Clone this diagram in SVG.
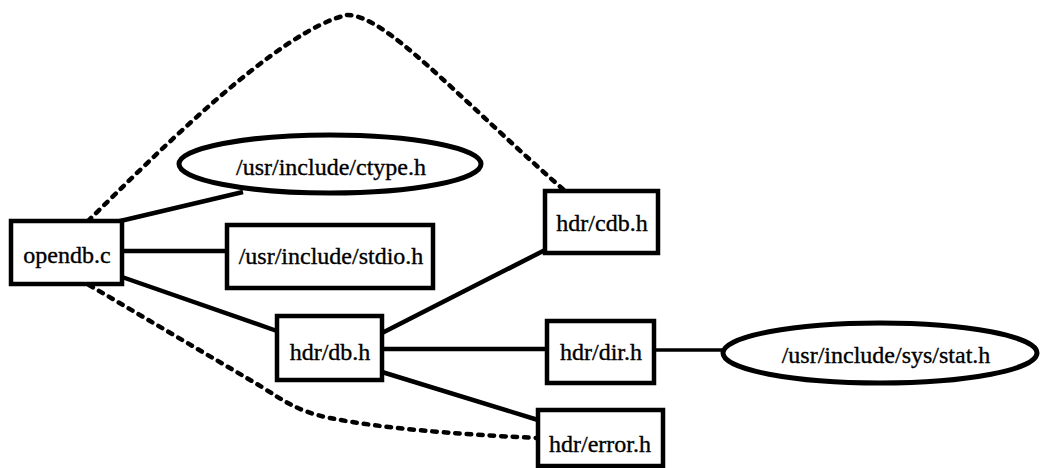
<svg xmlns="http://www.w3.org/2000/svg" width="1040" height="468" viewBox="0 0 1040 468">
  <style>
    .box { fill: #fff; stroke: #000; stroke-width: 4.5; }
    .oval { fill: #fff; stroke: #000; stroke-width: 5; }
    .label { font-family: "Liberation Serif", "Times New Roman", serif; font-size: 24px; fill: #000; stroke: #000; stroke-width: 0.35; text-anchor: middle; }
    .edge { fill: none; stroke: #000; stroke-width: 4.5; }
    .thin { stroke-width: 3.5; }
    .dash { fill: none; stroke: #000; stroke-width: 4.5; stroke-dasharray: 4.5 7; stroke-linecap: round; }
  </style>
  <rect width="1040" height="468" fill="#fff"/>

  <!-- include relations -->
  <g id="connectors">
    <path class="edge" d="M 116 222 L 243 192"/>
    <path class="edge" d="M 122 251 L 227 251"/>
    <path class="edge" d="M 122 277 L 277 331"/>
    <path class="edge" d="M 382 333 L 547 249"/>
    <path class="edge" d="M 382 349 L 547 349"/>
    <path class="edge" d="M 382 372 L 538 420"/>
    <path class="edge thin" d="M 654 350 L 723 350"/>
    <path class="dash" d="M 88 221 C 160 150, 280 30, 347 15 C 385 15, 450 90, 565 191"/>
    <path class="dash" d="M 89 285 L 262 387 C 285 402, 300 412, 330 418 C 380 428, 450 434, 538 438"/>
  </g>

  <g id="opendb_c">
    <rect class="box" x="11" y="221" width="111" height="63"/>
    <text class="label" x="67" y="263">opendb.c</text>
  </g>
  <g id="ctype_h">
    <ellipse class="oval" cx="330" cy="164" rx="151" ry="29"/>
    <text class="label" x="331" y="175">/usr/include/ctype.h</text>
  </g>
  <g id="stdio_h">
    <rect class="box" x="227" y="225" width="206" height="63"/>
    <text class="label" x="331" y="264">/usr/include/stdio.h</text>
  </g>
  <g id="db_h">
    <rect class="box" x="277" y="316" width="105" height="64"/>
    <text class="label" x="330" y="360">hdr/db.h</text>
  </g>
  <g id="cdb_h">
    <rect class="box" x="545" y="191" width="113" height="62"/>
    <text class="label" x="602" y="231">hdr/cdb.h</text>
  </g>
  <g id="dir_h">
    <rect class="box" x="547" y="321" width="107" height="62"/>
    <text class="label" x="601" y="360">hdr/dir.h</text>
  </g>
  <g id="stat_h">
    <ellipse class="oval" cx="880" cy="353" rx="157" ry="30"/>
    <text class="label" x="886" y="363">/usr/include/sys/stat.h</text>
  </g>
  <g id="error_h">
    <rect class="box" x="538" y="410" width="125" height="56"/>
    <text class="label" x="600" y="452">hdr/error.h</text>
  </g>
</svg>
